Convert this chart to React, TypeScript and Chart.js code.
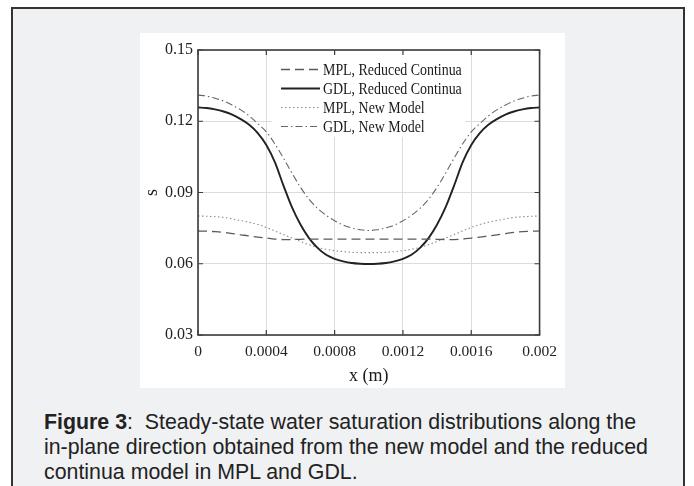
import React, { useEffect, useRef } from "react";
import { Chart, registerables } from "chart.js";

Chart.register(...registerables);

// ---------- data ----------
const xValues = [
  0, 0.00005, 0.0001, 0.00015, 0.0002, 0.00025, 0.0003, 0.00035, 0.0004, 0.00045,
  0.0005, 0.00055, 0.0006, 0.00065, 0.0007, 0.00075, 0.0008, 0.00085, 0.0009, 0.00095,
  0.001, 0.00105, 0.0011, 0.00115, 0.0012, 0.00125, 0.0013, 0.00135, 0.0014, 0.00145,
  0.0015, 0.00155, 0.0016, 0.00165, 0.0017, 0.00175, 0.0018, 0.00185, 0.0019, 0.00195, 0.002,
];

const mplReduced = [
  0.0738, 0.0737, 0.0735, 0.0732, 0.0727, 0.0722, 0.0717, 0.0712, 0.0708, 0.0704,
  0.0702, 0.0702, 0.0703, 0.0704, 0.0704, 0.0704, 0.0704, 0.0704, 0.0704, 0.0704,
  0.0704, 0.0704, 0.0704, 0.0704, 0.0704, 0.0704, 0.0704, 0.0704, 0.0703, 0.0702,
  0.0702, 0.0704, 0.0708, 0.0712, 0.0717, 0.0722, 0.0727, 0.0732, 0.0735, 0.0737, 0.0738,
];

const gdlReduced = [
  0.1258, 0.1256, 0.125, 0.1241, 0.1228, 0.1209, 0.1185, 0.115, 0.11, 0.1028,
  0.093, 0.0838, 0.0765, 0.0708, 0.0667, 0.0638, 0.0621, 0.061, 0.0603, 0.06,
  0.0599, 0.06, 0.0603, 0.061, 0.0621, 0.0638, 0.0667, 0.0708, 0.0765, 0.0838,
  0.093, 0.1028, 0.11, 0.115, 0.1185, 0.1209, 0.1228, 0.1241, 0.125, 0.1256, 0.1258,
];

const mplNew = [
  0.0801, 0.08, 0.0798, 0.0795, 0.0789, 0.0782, 0.0775, 0.0765, 0.0753, 0.0738,
  0.0723, 0.0708, 0.0694, 0.068, 0.0669, 0.0661, 0.0655, 0.0651, 0.0648, 0.0647,
  0.0647, 0.0647, 0.0648, 0.0651, 0.0655, 0.0661, 0.0669, 0.068, 0.0694, 0.0708,
  0.0723, 0.0738, 0.0753, 0.0765, 0.0775, 0.0782, 0.0789, 0.0795, 0.0798, 0.08, 0.0801,
];

const gdlNew = [
  0.131, 0.1306, 0.1297, 0.1285, 0.1268, 0.1248, 0.1222, 0.119, 0.1155, 0.1105,
  0.1045, 0.0982, 0.0922, 0.0872, 0.0833, 0.0804, 0.0781, 0.0763, 0.0751, 0.0743,
  0.074, 0.0743, 0.0751, 0.0763, 0.0781, 0.0804, 0.0833, 0.0872, 0.0922, 0.0982,
  0.1045, 0.1105, 0.1155, 0.119, 0.1222, 0.1248, 0.1268, 0.1285, 0.1297, 0.1306, 0.131,
];

const seriesLabels = [
  "MPL, Reduced Continua",
  "GDL, Reduced Continua",
  "MPL, New Model",
  "GDL, New Model",
];

const xTickValues = [0, 0.0004, 0.0008, 0.0012, 0.0016, 0.002];
const xTickLabels = ["0", "0.0004", "0.0008", "0.0012", "0.0016", "0.002"];
const yTickValues = [0.03, 0.06, 0.09, 0.12, 0.15];
const yTickLabels = ["0.03", "0.06", "0.09", "0.12", "0.15"];

const xTitle = "x (m)";
const yTitle = "s";

const SERIF = '"Liberation Serif", "Times New Roman", Times, serif';

const framePlugin = {
  id: "matlabFrame",
  afterDatasetsDraw(chart: any) {
    const { ctx, chartArea: a, scales } = chart;
    ctx.save();

    // legend box (white, hides grid)
    const lx = a.left + 74;
    const ly = a.top + 1;
    ctx.fillStyle = "#ffffff";
    ctx.fillRect(lx, ly, 193, 86);

    chart.data.datasets.forEach((ds: any, i: number) => {
      const y = a.top + 19.5 + i * 19;
      ctx.save();
      ctx.strokeStyle = ds.borderColor;
      ctx.lineWidth = ds.borderWidth;
      ctx.setLineDash(ds.borderDash || []);
      ctx.beginPath();
      ctx.moveTo(a.left + 83, y);
      ctx.lineTo(a.left + 122, y);
      ctx.stroke();
      ctx.restore();

      ctx.save();
      ctx.translate(a.left + 125, y + 1);
      ctx.scale(0.87, 1);
      ctx.fillStyle = "#1a1a1a";
      ctx.font = `16px ${SERIF}`;
      ctx.textBaseline = "middle";
      ctx.textAlign = "left";
      ctx.fillText(ds.label, 0, 0);
      ctx.restore();
    });

    // frame
    ctx.strokeStyle = "#3c3c3c";
    ctx.lineWidth = 1.6;
    ctx.setLineDash([]);
    ctx.strokeRect(a.left, a.top, a.right - a.left, a.bottom - a.top);

    // inward ticks on all four sides
    ctx.lineWidth = 1.2;
    const tl = 5;
    xTickValues.forEach((v) => {
      const px = scales.x.getPixelForValue(v);
      ctx.beginPath();
      ctx.moveTo(px, a.bottom);
      ctx.lineTo(px, a.bottom - tl);
      ctx.moveTo(px, a.top);
      ctx.lineTo(px, a.top + tl);
      ctx.stroke();
    });
    yTickValues.forEach((v) => {
      const py = scales.y.getPixelForValue(v);
      ctx.beginPath();
      ctx.moveTo(a.left, py);
      ctx.lineTo(a.left + tl, py);
      ctx.moveTo(a.right, py);
      ctx.lineTo(a.right - tl, py);
      ctx.stroke();
    });

    // axis titles
    ctx.fillStyle = "#1a1a1a";
    ctx.font = `18px ${SERIF}`;
    ctx.textAlign = "center";
    ctx.textBaseline = "middle";
    ctx.fillText(xTitle, (a.left + a.right) / 2, a.bottom + 41);
    ctx.save();
    ctx.translate(a.left - 45.5, (a.top + a.bottom) / 2);
    ctx.rotate(-Math.PI / 2);
    ctx.fillText(yTitle, 0, 0);
    ctx.restore();

    ctx.restore();
  },
};

function PlotCanvas() {
  const ref = useRef<HTMLCanvasElement | null>(null);
  useEffect(() => {
    if (!ref.current) return;
    const mk = (vals: number[]) => xValues.map((x, i) => ({ x, y: vals[i] }));
    const chart = new Chart(ref.current, {
      type: "line",
      data: {
        datasets: [
          {
            label: seriesLabels[0],
            data: mk(mplReduced),
            borderColor: "#5a5a5a",
            borderWidth: 1.3,
            borderDash: [9, 5],
            pointRadius: 0,
            cubicInterpolationMode: "monotone",
          },
          {
            label: seriesLabels[1],
            data: mk(gdlReduced),
            borderColor: "#222222",
            borderWidth: 1.9,
            borderDash: [],
            pointRadius: 0,
            cubicInterpolationMode: "monotone",
          },
          {
            label: seriesLabels[2],
            data: mk(mplNew),
            borderColor: "#8c8c8c",
            borderWidth: 1.1,
            borderDash: [1.5, 2.5],
            pointRadius: 0,
            cubicInterpolationMode: "monotone",
          },
          {
            label: seriesLabels[3],
            data: mk(gdlNew),
            borderColor: "#666666",
            borderWidth: 1.1,
            borderDash: [7, 3, 1.5, 3],
            pointRadius: 0,
            cubicInterpolationMode: "monotone",
          },
        ],
      },
      options: {
        animation: false,
        responsive: false,
        maintainAspectRatio: false,
        layout: { padding: { left: 0, top: 17, right: 22, bottom: 0 } },
        plugins: {
          legend: { display: false },
          tooltip: { enabled: false },
        },
        scales: {
          x: {
            type: "linear",
            min: 0,
            max: 0.002,
            afterBuildTicks: (s: any) => {
              s.ticks = xTickValues.map((v) => ({ value: v }));
            },
            afterFit: (s: any) => {
              s.height = 53;
            },
            ticks: {
              autoSkip: false,
              maxRotation: 0,
              padding: 8,
              color: "#222222",
              font: { family: SERIF, size: 15.5 },
              callback: (_v: any, i: number) => xTickLabels[i],
            },
            grid: { color: "#dcdcdc", lineWidth: 1, drawTicks: false },
            border: { display: false },
          },
          y: {
            type: "linear",
            min: 0.03,
            max: 0.15,
            afterBuildTicks: (s: any) => {
              s.ticks = yTickValues.map((v) => ({ value: v }));
            },
            afterFit: (s: any) => {
              s.width = 58;
            },
            ticks: {
              autoSkip: false,
              padding: 5,
              color: "#222222",
              font: { family: SERIF, size: 16 },
              callback: (_v: any, i: number) => yTickLabels[i],
            },
            grid: { color: "#dcdcdc", lineWidth: 1, drawTicks: false },
            border: { display: false },
          },
        },
      },
      plugins: [framePlugin],
    } as any);
    return () => chart.destroy();
  }, []);
  return (
    <canvas
      ref={ref}
      width={425}
      height={355}
      style={{ display: "block", width: 425, height: 355 }}
    />
  );
}

export default function App() {
  return (
    <div
      style={{
        position: "absolute",
        left: 0,
        top: 0,
        width: 694,
        height: 486,
        overflow: "hidden",
        background: "#ffffff",
      }}
    >
      <div
        style={{
          position: "absolute",
          left: 11,
          top: 7,
          width: 674,
          height: 500,
          boxSizing: "border-box",
          border: "2px solid #333333",
          borderBottom: "none",
          background: "#f0f1f3",
        }}
      />
      <div
        style={{
          position: "absolute",
          left: 140,
          top: 33,
          width: 425,
          height: 355,
          background: "#ffffff",
        }}
      >
        <PlotCanvas />
      </div>
      <div
        style={{
          position: "absolute",
          left: 44,
          top: 410,
          font: '21.35px "Liberation Sans", Arial, sans-serif',
          lineHeight: "25px",
          color: "#222222",
          whiteSpace: "nowrap",
        }}
      >
        <b>Figure 3</b>:&nbsp; Steady-state water saturation distributions along the
        <br />
        in-plane direction obtained from the new model and the reduced
        <br />
        continua model in MPL and GDL.
      </div>
    </div>
  );
}
